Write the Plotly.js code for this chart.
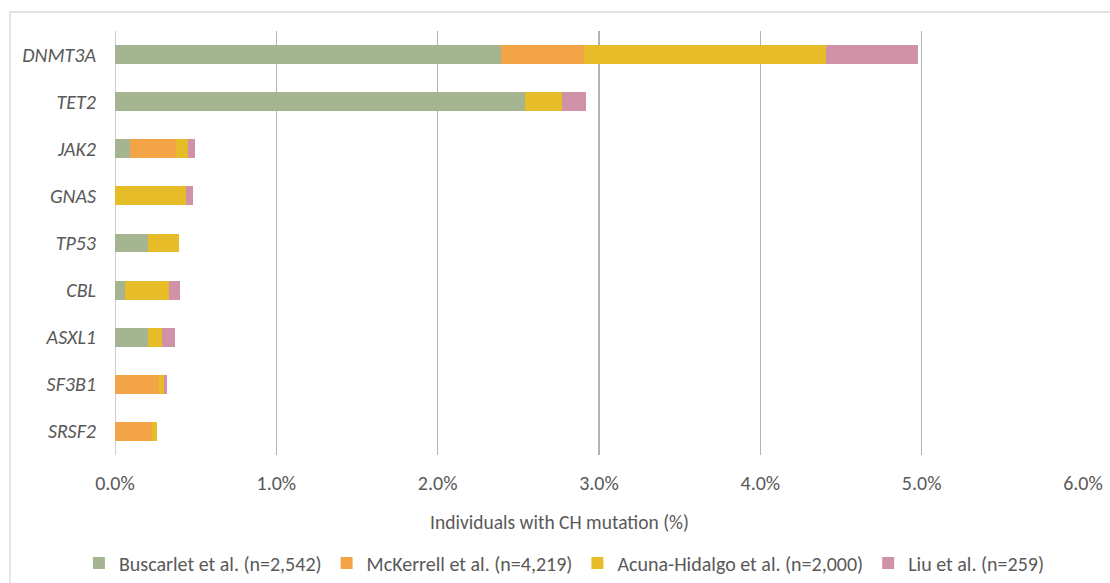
<!DOCTYPE html>
<html>
<head>
<meta charset="utf-8">
<script src="https://cdn.plot.ly/plotly-3.0.1.min.js"></script>
<style>html,body{margin:0;padding:0;background:#fff;}#chart{width:1110px;height:583px;}</style>
</head>
<body>
<div id="chart"></div>
<script>
const genes = ["DNMT3A", "TET2", "JAK2", "GNAS", "TP53", "CBL", "ASXL1", "SF3B1", "SRSF2"];
const seriesNames = ["Buscarlet et al. (n=2,542)", "McKerrell et al. (n=4,219)", "Acuna-Hidalgo et al. (n=2,000)", "Liu et al. (n=259)"];
const buscarlet = [2.39, 2.54, 0.095, 0, 0.205, 0.06, 0.205, 0, 0];
const mckerrell = [0.52, 0, 0.28, 0, 0, 0, 0, 0.275, 0.23];
const acuna = [1.50, 0.23, 0.075, 0.44, 0.19, 0.275, 0.085, 0.03, 0.03];
const liu = [0.57, 0.15, 0.045, 0.045, 0, 0.065, 0.08, 0.016, 0];
const xTicks = [0, 1, 2, 3, 4, 5, 6];
const xTickLabels = ["0.0%", "1.0%", "2.0%", "3.0%", "4.0%", "5.0%", "6.0%"];
const colors = ["#a5b592", "#f3a447", "#e7bc29", "#d092a7"];

const FONT = "Carlito, Lato, 'Open Sans', sans-serif";
const allValues = [buscarlet, mckerrell, acuna, liu];
const traces = allValues.map((vals, i) => ({
  type: "bar",
  orientation: "h",
  name: seriesNames[i],
  y: genes,
  x: vals.map(v => v / 100),
  marker: {color: colors[i], line: {width: 0}},
  hoverinfo: "name+x"
}));

const layout = {
  width: 1110, height: 583,
  margin: {l: 115, r: 27, t: 31, b: 128, autoexpand: false},
  barmode: "stack",
  bargap: 0.6,
  paper_bgcolor: "#ffffff",
  plot_bgcolor: "#ffffff",
  font: {family: FONT, color: "#595959", size: 20},
  showlegend: true,
  xaxis: {
    range: [0, 0.06],
    tickvals: xTicks.map(v => v / 100),
    ticktext: xTickLabels,
    showgrid: true,
    gridcolor: "#b3b3b3",
    gridwidth: 1.3,
    zeroline: false,
    showline: false,
    ticks: "outside", ticklen: 10, tickcolor: "rgba(0,0,0,0)",
    tickfont: {family: FONT, size: 20, color: "#595959"},
    automargin: false,
    fixedrange: true
  },
  yaxis: {
    categoryorder: "array",
    categoryarray: genes,
    autorange: "reversed",
    showgrid: false,
    zeroline: false,
    showline: false,
    ticks: "outside", ticklen: 14, tickcolor: "rgba(0,0,0,0)",
    tickfont: {family: FONT, size: 20, color: "#595959", style: "italic"},
    automargin: false,
    fixedrange: true
  },
  legend: {
    orientation: "h",
    x: 0.4643, xanchor: "center",
    y: -0.2547, yanchor: "middle",
    font: {family: FONT, size: 20, color: "#595959"},
    traceorder: "normal",
    itemwidth: 30
  },
  annotations: [{
    text: "Individuals with CH mutation (%)",
    xref: "paper", yref: "paper",
    x: 0.4587, y: -0.158,
    xanchor: "center", yanchor: "middle",
    showarrow: false,
    font: {family: FONT, size: 19.5, color: "#595959"}
  }],
  shapes: [
    {type: "line", xref: "x", yref: "paper", x0: 0, x1: 0, y0: 0, y1: 1, line: {color: "#b3b3b3", width: 1.3}, layer: "below"},
    {type: "rect", xref: "paper", yref: "paper", x0: -0.1085, x1: 1.1, y0: -0.5, y1: 1.0448, line: {color: "#d9d9d9", width: 1.3}, fillcolor: "rgba(0,0,0,0)", layer: "below"}
  ]
};

Plotly.newPlot("chart", traces, layout, {displayModeBar: false, staticPlot: true});
</script>
</body>
</html>
